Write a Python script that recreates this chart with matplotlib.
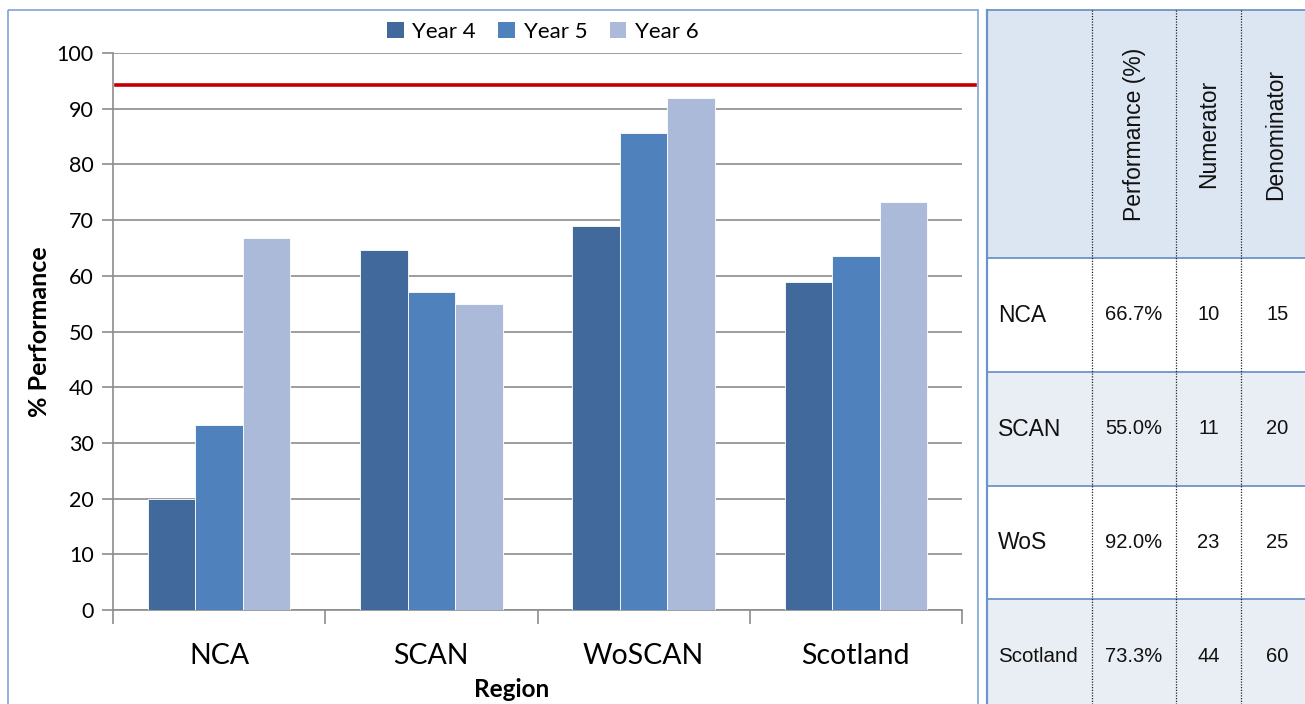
import matplotlib
matplotlib.use("Agg")
import matplotlib.pyplot as plt
from matplotlib.patches import Rectangle, Patch
from matplotlib.lines import Line2D
import numpy as np

# ---- data ----
regions = ["NCA", "SCAN", "WoSCAN", "Scotland"]
years = ["Year 4", "Year 5", "Year 6"]
year4 = [20.0, 64.7, 69.0, 58.9]
year5 = [33.3, 57.1, 85.6, 63.6]
year6 = [66.7, 55.0, 92.0, 73.3]
target = 94.2
yticks = list(range(0, 101, 10))

table_regions = ["NCA", "SCAN", "WoS", "Scotland"]
table_perf = ["66.7%", "55.0%", "92.0%", "73.3%"]
table_num = ["10", "11", "23", "44"]
table_den = ["15", "20", "25", "60"]
table_headers = ["Performance (%)", "Numerator", "Denominator"]

colors = ["#41699b", "#4f81bd", "#abbad8"]
chart_font = "Lato"
table_font = "Liberation Sans"

W, H = 1305, 704
fig = plt.figure(figsize=(W / 100, H / 100), dpi=100)
fig.patch.set_facecolor("white")

def fx(px):
    return px / W

def fy(py):
    return 1 - py / H

# outer chart frame
frame = fig.add_axes([0, 0, 1, 1], zorder=-5)
frame.set_xlim(0, W)
frame.set_ylim(H, 0)
frame.axis("off")
frame.add_patch(Rectangle((8, 10), 970, 720, fill=False, edgecolor="#7ea3d6", lw=1.2))

# ---- bar chart ----
ax = fig.add_axes([fx(113), fy(610), fx(962) - fx(113), fy(53) - fy(610)])
x = np.arange(len(regions))
bw = 0.224
for i, (vals, c) in enumerate(zip([year4, year5, year6], colors)):
    ax.bar(x + (i - 1) * bw, vals, width=bw, color=c, edgecolor="white",
           linewidth=0.6, zorder=3)

ax.set_xlim(-0.5, len(regions) - 0.5)
ax.set_ylim(0, 100)
ax.set_yticks(yticks)
ax.set_yticklabels([str(t) for t in yticks], fontsize=15.5, family=chart_font)
ax.yaxis.grid(True, color="#8c8c8c", lw=1.2, zorder=0)
ax.set_axisbelow(True)
for s in ["top", "right"]:
    ax.spines[s].set_visible(False)
ax.spines["left"].set_color("#8c8c8c")
ax.spines["bottom"].set_color("#8c8c8c")
ax.spines["left"].set_linewidth(1.2)
ax.spines["bottom"].set_linewidth(1.2)
ax.tick_params(axis="y", length=8, width=1.2, color="#8c8c8c", pad=6)

# category boundary ticks on the x axis, labels centred under groups
ax.set_xticks(np.arange(-0.5, len(regions), 1.0))
ax.set_xticklabels([])
ax.tick_params(axis="x", length=10, width=1.2, color="#8c8c8c", direction="out")
for xi, name in zip(x, regions):
    ax.text(xi, -8.2, name, ha="center", va="center", fontsize=20.5,
            family=chart_font, transform=ax.transData, clip_on=False)

ax.text(-0.087, 0.499, "% Performance", transform=ax.transAxes, rotation=90,
        ha="center", va="center", fontsize=18, fontweight="bold", family=chart_font)
ax.text(0.469, -0.142, "Region", transform=ax.transAxes, ha="center", va="center",
        fontsize=17.5, fontweight="bold", family=chart_font)

# target line running to the frame edge
ax.add_line(Line2D([0.003, (975 - 113) / (962 - 113)], [target, target],
                   transform=ax.get_yaxis_transform(), color="#c00000", lw=2.6,
                   clip_on=False, zorder=4))

handles = [Patch(facecolor=c, edgecolor="none") for c in colors]
fig.legend(handles, years, loc="center", bbox_to_anchor=(fx(543), fy(32)), ncol=3,
           frameon=False, prop={"family": chart_font, "size": 16},
           handlelength=0.75, handleheight=0.75, handletextpad=0.4, columnspacing=1.0)

# ---- data table ----
tb = fig.add_axes([0, 0, 1, 1], zorder=2)
tb.set_xlim(0, W)
tb.set_ylim(H, 0)
tb.axis("off")

col_x = [987, 1092, 1176, 1241, 1310]
row_y = [10, 258, 372, 486, 599, 713]
row_bg = ["#dce6f2", "#ffffff", "#e9edf4", "#ffffff", "#e9edf4"]
line_col = "#6d93cc"

for r in range(5):
    tb.add_patch(Rectangle((col_x[0], row_y[r]), col_x[-1] - col_x[0],
                           row_y[r + 1] - row_y[r], facecolor=row_bg[r],
                           edgecolor="none", zorder=1))
for yy in row_y[:-1]:
    tb.plot([col_x[0], col_x[-1]], [yy, yy], color=line_col, lw=1.3, zorder=3)
tb.plot([col_x[0], col_x[0]], [row_y[0], H], color=line_col, lw=1.6, zorder=3)
for xx in col_x[1:4]:
    tb.plot([xx, xx], [row_y[0], H], color="#222222", lw=0.9, ls=(0, (1, 1.2)),
            zorder=3)

header_cx = [(col_x[i] + col_x[i + 1]) / 2 for i in range(1, 4)]
for cx, h in zip(header_cx, table_headers):
    tb.text(cx, (row_y[0] + row_y[1]) / 2, h, rotation=90, ha="center",
            va="center", fontsize=16.5, family=table_font, color="#111111", zorder=4)

for r in range(4):
    cy = (row_y[r + 1] + row_y[r + 2]) / 2
    fs = 16.5 if table_regions[r] != "Scotland" else 14.8
    tb.text(col_x[0] + 11, cy, table_regions[r], ha="left", va="center",
            fontsize=fs, family=table_font, color="#111111", zorder=4)
    for c, vals in enumerate([table_perf, table_num, table_den]):
        tb.text((col_x[c + 1] + col_x[c + 2]) / 2 + (2 if c == 2 else 0), cy,
                vals[r], ha="center", va="center", fontsize=14.5,
                family=table_font, color="#111111", zorder=4)

fig.savefig("out.png", dpi=100, facecolor="white")
